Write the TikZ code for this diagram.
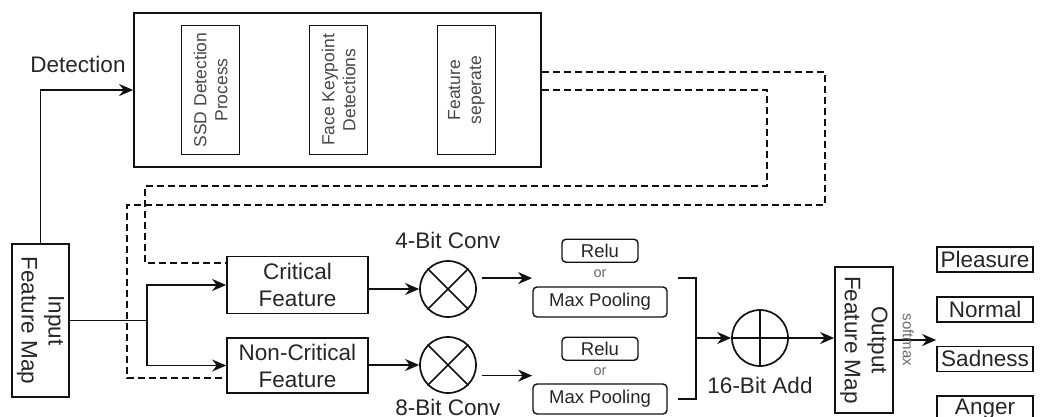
\documentclass[tikz,border=0pt]{standalone}
\usepackage{fontspec}
\setmainfont{Liberation Sans}
\usetikzlibrary{arrows.meta, positioning, fit}
\definecolor{ink}{HTML}{262626}
\definecolor{edge}{HTML}{111111}
\definecolor{mute}{HTML}{6A6A6A}
\newcommand{\fsL}{\fontsize{22.5}{27}\selectfont}
\newcommand{\fsM}{\fontsize{18.5}{22}\selectfont}
\newcommand{\fsV}{\fontsize{17.5}{21}\selectfont}
\newcommand{\fsT}{\fontsize{14.5}{16}\selectfont}
\newcommand{\fsS}{\fontsize{15}{17}\selectfont}
\tikzset{
  n/.style={draw=edge, line width=1.7pt, align=center, font=\fsL, text=ink, inner sep=0pt},
  nv/.style={n, rotate=90, font=\fsV, text=ink!85, minimum width=129pt, minimum height=58pt},
  nr/.style={n, rounded corners=4pt, line width=1.4pt, font=\fsM},
  cls/.style={n, minimum width=96pt, minimum height=25pt},
  op/.style={circle, draw=edge, line width=1.7pt, minimum size=56pt, inner sep=0pt},
  lbl/.style={font=\fsL, text=ink, inner sep=0pt},
  ortxt/.style={font=\fsT, text=mute, inner sep=0pt},
  ln/.style={draw=edge, line width=1.7pt},
  a/.style={ln, -{Stealth[length=14pt, width=12pt]}},
  ad/.style={ln, dash pattern=on 7pt off 4pt},
}
\begin{document}
\begin{tikzpicture}[x=1pt, y=-1pt, node distance=23pt]
\useasboundingbox (0,0) rectangle (1043,417);

% detection stage
\node[n, minimum width=407pt, minimum height=154pt] (det) at (337.5,90) {};
\node[nv] (ssd) at (210.5,90) {SSD Detection\\Process};
\node[nv] (face) at (338.5,90) {Face Keypoint\\Detections};
\node[nv] (sep) at (466.5,90) {Feature\\seperate};
\node[lbl, anchor=base] (dettxt) at (78,73) {Detection};

% feature split
\node[n, rotate=-90, minimum width=153pt, minimum height=57pt] (inp) at (40.5,320.5) {Input\\Feature Map};
\node[n, minimum width=141pt, minimum height=57pt] (crit) at (297.5,285) {Critical\\Feature};
\node[n, minimum width=141pt, minimum height=55pt] (ncrit) at (297.5,365.5) {Non-Critical\\Feature};

% quantised conv
\node[op] (conv4) at (448,289) {};
\node[op] (conv8) at (448,365) {};
\node[lbl, above=11pt of conv4] (conv4txt) {4-Bit Conv};
\node[lbl, below=5pt of conv8] (conv8txt) {8-Bit Conv};

% activation / pooling
\node[nr, minimum width=134pt, minimum height=30pt] (pool1) at (600,302) {Max Pooling};
\node[ortxt, above=8pt of pool1] (or1) {or};
\node[nr, minimum width=76pt, minimum height=23pt, above=7pt of or1] (relu1) {Relu};
\node[nr, minimum width=134pt, minimum height=30pt] (pool2) at (600,399) {Max Pooling};
\node[ortxt, above=7pt of pool2] (or2) {or};
\node[nr, minimum width=76pt, minimum height=23pt, above=7pt of or2] (relu2) {Relu};
\node[fit=(relu1)(pool1), inner sep=0pt] (g1) {};
\node[fit=(relu2)(pool2), inner sep=0pt] (g2) {};

% add + output
\node[op] (add) at (760,338) {};
\node[lbl, below=10pt of add] (addtxt) {16-Bit Add};
\node[n, rotate=-90, minimum width=146pt, minimum height=58pt] (out) at (864,340) {Output\\Feature Map};
\node[cls] (ple) at (985,259.5) {Pleasure};
\node[cls, below=of ple] (nor) {Normal};
\node[cls, below=of nor] (sad) {Sadness};
\node[cls, below=of sad] (ang) {Anger};
\coordinate (bm) at (695,338);

% operator marks
\draw[ln] (conv4.north west) -- (conv4.south east) (conv4.north east) -- (conv4.south west);
\draw[ln] (conv8.north west) -- (conv8.south east) (conv8.north east) -- (conv8.south west);
\draw[ln] (add.north) -- (add.south) (add.west) -- (add.east);

% connectors
\draw[a] (inp.west) |- (det.west);
\draw[ln] (inp.north) -- ++(77pt,0) coordinate (br);
\draw[a] (br) |- (crit.west);
\draw[a] (br) |- (ncrit.west);
\draw[ad] ([yshift=18pt]det.east) -| (825,205) -| (127,378) -- ([yshift=-12.5pt]ncrit.west);
\draw[ad] (det.east) -| (767,186) -| (145,263) -- ([yshift=22pt]crit.west);
\draw[a] (crit.east |- conv4.west) -- (conv4.west);
\draw[a] (ncrit.east |- conv8.west) -- (conv8.west);
\draw[a] ([xshift=5pt]conv4.east |- g1.west) -- (g1.west);
\draw[a] ([xshift=5pt]conv8.east |- g2.west) -- (g2.west);
\draw[ln] ([xshift=10pt]pool1.east |- g1.west) -| ([xshift=28pt]pool2.east) -- ([xshift=10pt]pool2.east);
\draw[a] (bm) -- (add.west);
\draw[a] (add.east) -- (add.east -| out.south);
\draw[a] (out.north) -- (out.north -| sad.west) node[pos=0.34, rotate=-90, font=\fsS, text=mute, inner sep=0pt] (smx) {softmax};
\end{tikzpicture}
\end{document}
